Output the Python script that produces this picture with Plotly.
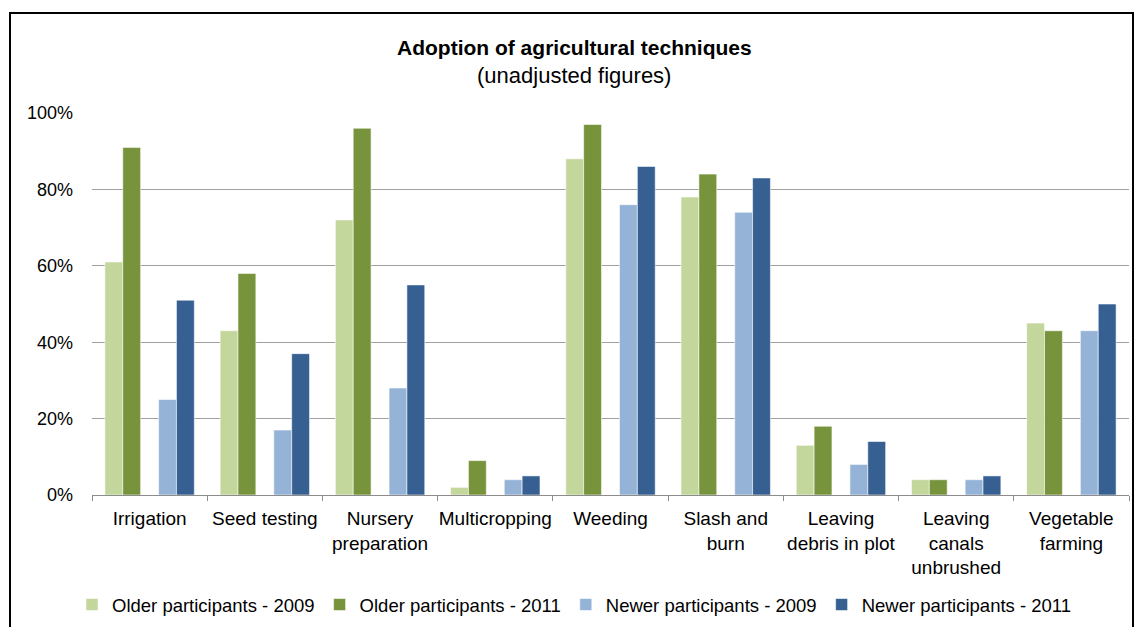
import plotly.graph_objects as go

# Adoption of agricultural techniques (share of participants, %)
categories = [
    "Irrigation", "Seed testing", "Nursery<br>preparation", "Multicropping",
    "Weeding", "Slash and<br>burn", "Leaving<br>debris in plot",
    "Leaving<br>canals<br>unbrushed", "Vegetable<br>farming",
]
older_2009 = [61, 43, 72, 2, 88, 78, 13, 4, 45]
older_2011 = [91, 58, 96, 9, 97, 84, 18, 4, 43]
newer_2009 = [25, 17, 28, 4, 76, 74, 8, 4, 43]
newer_2011 = [51, 37, 55, 5, 86, 83, 14, 5, 50]
y_ticks = [0, 20, 40, 60, 80, 100]

FONT = "Liberation Sans, Arial, sans-serif"

series = [
    ("Older participants - 2009", older_2009, "#C3D69B", -0.388),
    ("Older participants - 2011", older_2011, "#77933C", -0.233),
    ("Newer participants - 2009", newer_2009, "#95B3D7", 0.078),
    ("Newer participants - 2011", newer_2011, "#376092", 0.233),
]

fig = go.Figure()
for name, vals, color, off in series:
    fig.add_trace(go.Bar(
        x=categories, y=vals, name=name,
        marker=dict(color=color, line=dict(color="rgba(255,255,255,0.7)", width=0.8)),
        width=0.155, offset=off,
    ))

W, H = 1142, 627
L, R, T, B = 92, 13, 113, 132
PW, PH = W - L - R, H - T - B


def px_x(x):
    return (x - L) / PW


def px_y(y):
    return (H - B - y) / PH


fig.update_layout(
    width=W, height=H,
    margin=dict(l=L, r=R, t=T, b=B, autoexpand=False),
    paper_bgcolor="white", plot_bgcolor="white",
    barmode="overlay",
    font=dict(family=FONT, size=19, color="#000000"),
    showlegend=True,
    legend=dict(
        orientation="h", x=px_x(72), xanchor="left", y=px_y(605), yanchor="middle",
        font=dict(family=FONT, size=18.5, color="#000000"),
        itemwidth=30, tracegroupgap=0,
    ),
    xaxis=dict(
        type="category", showgrid=False, showline=True, linecolor="#8C8C8C",
        linewidth=1, ticks="outside", tickson="boundaries", ticklen=5,
        tickcolor="#8C8C8C", tickfont=dict(family=FONT, size=19, color="#000000"),
        tickangle=0, ticklabelstandoff=6, automargin=False, fixedrange=True,
    ),
    yaxis=dict(
        range=[0, 100], tickvals=y_ticks, ticktext=[f"{v}%" for v in y_ticks],
        showgrid=True, gridcolor="#A0A0A0", gridwidth=1, zeroline=False,
        showline=False, ticks="", ticklabelstandoff=18, automargin=False,
        tickfont=dict(family=FONT, size=18, color="#000000"),
    ),
    annotations=[
        dict(text="<b>Adoption of agricultural techniques</b>", xref="paper", yref="paper",
             x=px_x(574), y=px_y(47), xanchor="center", yanchor="middle", showarrow=False,
             font=dict(family=FONT, size=21, color="#000000")),
        dict(text="(unadjusted figures)", xref="paper", yref="paper",
             x=px_x(574), y=px_y(76), xanchor="center", yanchor="middle", showarrow=False,
             font=dict(family=FONT, size=22, color="#000000")),
    ],
    shapes=[
        dict(type="rect", xref="paper", yref="paper",
             x0=px_x(10), x1=px_x(1133), y0=px_y(660), y1=px_y(13),
             line=dict(color="#000000", width=2), fillcolor="rgba(0,0,0,0)", layer="above"),
    ],
)

fig.write_html("out.html")
